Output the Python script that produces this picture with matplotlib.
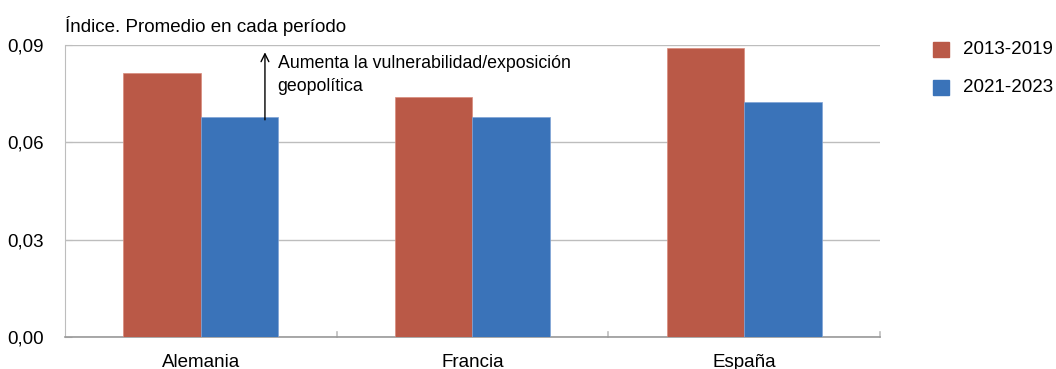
import matplotlib
matplotlib.use("Agg")
import matplotlib.pyplot as plt
import numpy as np

plt.rcParams['font.family'] = ['Liberation Sans', 'DejaVu Sans']

categories = ["Alemania", "Francia", "España"]
series_names = ["2013-2019", "2021-2023"]
values_2013_2019 = [0.0815, 0.0741, 0.0892]
values_2021_2023 = [0.0677, 0.0678, 0.0725]
yticks = [0.00, 0.03, 0.06, 0.09]
ytick_labels = ["0,00", "0,03", "0,06", "0,09"]
note_lines = ["Aumenta la vulnerabilidad/exposición", "geopolítica"]

red = "#BA5947"
blue = "#3A73B9"
grid_c = "#BDBDBD"
fs = 13.5

fig = plt.figure(figsize=(10.56, 3.69), dpi=100)
ax = fig.add_axes([65/1056, 1 - 337.3/369, (880-65)/1056, (337.3-45)/369])

x = np.arange(len(categories))
w = 0.285
ax.bar(x - w/2, values_2013_2019, w, color=red, edgecolor="#D88A7C", linewidth=0.5,
       label=series_names[0], zorder=3)
ax.bar(x + w/2, values_2021_2023, w, color=blue, edgecolor="#7FA3D6", linewidth=0.5,
       label=series_names[1], zorder=3)

ax.set_xlim(-0.5, len(categories) - 0.5)
ax.set_ylim(0, 0.09)
ax.set_yticks(yticks)
ax.set_yticklabels(ytick_labels, fontsize=fs)
ax.set_xticks(x)
ax.set_xticklabels(categories, fontsize=fs)
ax.tick_params(axis='x', length=0, pad=12)
ax.tick_params(axis='y', length=5, direction='in', color=grid_c, pad=15)
for lbl in ax.get_yticklabels():
    lbl.set_horizontalalignment('right')

# category separator ticks along the baseline
for b in np.arange(0.5, len(categories) - 0.5 + 1e-9, 1.0):
    ax.plot([b, b], [0, 0.0016], color=grid_c, lw=1.2, zorder=2, clip_on=False)

ax.yaxis.grid(True, color=grid_c, lw=1.0, zorder=0)
for s in ["top", "right"]:
    ax.spines[s].set_visible(False)
ax.spines["left"].set_color(grid_c)
ax.spines["bottom"].set_color("#999999")
ax.spines["bottom"].set_linewidth(1.2)

# annotation arrow and its note
ax.annotate("", xy=(0.236, 0.0886), xytext=(0.236, 0.0661),
            arrowprops=dict(arrowstyle="->", color="black", lw=1.0,
                            mutation_scale=14), zorder=5)
ax.text(0.283, 0.0830, note_lines[0], fontsize=12.8, va="baseline", ha="left", zorder=5)
ax.text(0.283, 0.0758, note_lines[1], fontsize=12.8, va="baseline", ha="left", zorder=5)

fig.text(65/1056, 1 - 32/369, "Índice. Promedio en cada período",
         fontsize=fs, va="baseline", ha="left")

# legend
fig.patches.append(plt.Rectangle((933/1056, 1 - 57/369), 16/1056, 15/369,
                                 transform=fig.transFigure, color=red))
fig.patches.append(plt.Rectangle((933/1056, 1 - 95/369), 16/1056, 15/369,
                                 transform=fig.transFigure, color=blue))
fig.text(963/1056, 1 - 50/369, series_names[0], fontsize=fs, va="center")
fig.text(963/1056, 1 - 88/369, series_names[1], fontsize=fs, va="center")

fig.savefig("out.png", dpi=100)
